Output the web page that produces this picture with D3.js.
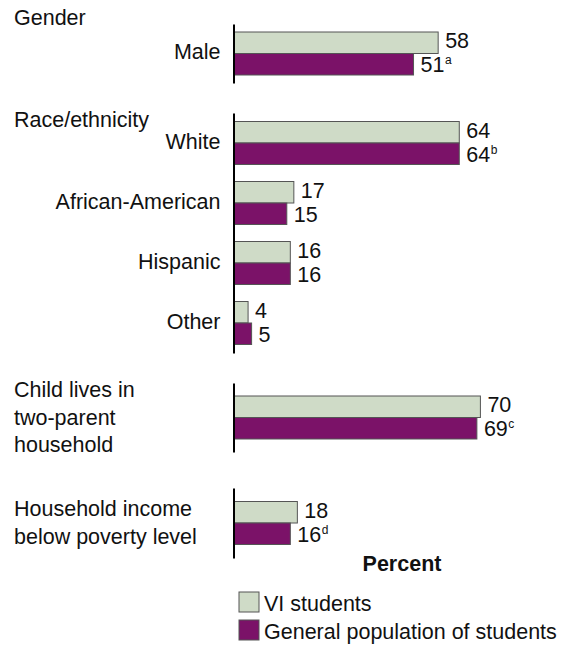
<!DOCTYPE html>
<html>
<head>
<meta charset="utf-8">
<script src="https://cdn.jsdelivr.net/npm/d3@7"></script>
<style>
  html, body { margin: 0; padding: 0; background: #fff; }
  svg { display: block; font-family: "Liberation Sans", Arial, Helvetica, sans-serif; }
</style>
</head>
<body>
<svg id="chart" width="566" height="647"></svg>
<script>
// ---- data ----
const sectionTitles = [
  ["Gender"],
  ["Race/ethnicity"],
  ["Child lives in", "two-parent", "household"],
  ["Household income", "below poverty level"]
];
const rowLabels = ["Male", "White", "African-American", "Hispanic", "Other",
                   "Two-parent household", "Below poverty level"];
const rowSection = [0, 1, 1, 1, 1, 2, 3];
const viStudents = [58, 64, 17, 16, 4, 70, 18];
const generalPopulation = [51, 64, 15, 16, 5, 69, 16];
const footnotes = ["a", "b", "", "", "", "c", "d"];
const seriesNames = ["VI students", "General population of students"];
const axisTitle = "Percent";

// ---- layout ----
const FONT = 21.5;
const colors = ["#cfdbc7", "#7b1268"];
const barStroke = "#555";
const x0 = 234;
const x = d3.scaleLinear().domain([0, 100]).range([x0, x0 + 352]);
const sectionSpans = [[24, 83], [113, 353], [383, 452], [488, 558]];
const headerBaselines = [25, 127];      // sections with a heading above the rows
const barPair = 43;                      // both bars of one row
const series = d3.scaleBand().domain(seriesNames).range([-barPair / 2, barPair / 2]);
const valueDy = [5.3, 7.8];

const svg = d3.select("#chart");
const values = [viStudents, generalPopulation];

sectionTitles.forEach((title, s) => {
  const rows = d3.range(rowLabels.length).filter(i => rowSection[i] === s);
  const band = d3.scaleBand().domain(rows).range(sectionSpans[s]);
  const centre = i => band(i) + band.bandwidth() / 2;
  const g = svg.append("g");

  // section heading / multi-line left label
  if (s < 2) {
    g.append("text")
      .attr("x", 14).attr("y", headerBaselines[s])
      .attr("font-size", FONT).attr("fill", "#111")
      .text(title[0]);
  } else {
    const c = centre(rows[0]);
    const lh = 27.5;
    g.append("text")
      .attr("font-size", FONT).attr("fill", "#111")
      .selectAll("tspan").data(title).join("tspan")
      .attr("x", 14)
      .attr("y", (d, k) => c + (k - (title.length - 1) / 2) * lh + 7)
      .text(d => d);
  }

  // bars
  rows.forEach(i => {
    seriesNames.forEach((name, k) => {
      const v = values[k][i];
      const y = centre(i) + series(name);
      g.append("rect")
        .attr("x", x(0))
        .attr("y", y)
        .attr("width", x(v) - x(0))
        .attr("height", series.bandwidth())
        .attr("fill", colors[k])
        .attr("stroke", barStroke)
        .attr("stroke-width", 1);

      const ty = y + series.bandwidth() / 2 + valueDy[k];
      const t = g.append("text")
        .attr("x", x(v) + 7)
        .attr("y", ty)
        .attr("font-size", FONT).attr("fill", "#111")
        .text(v);
      if (k === 1 && footnotes[i]) {
        // footnote marker set as a raised, smaller letter after the value
        const w = t.node().getComputedTextLength();
        g.append("text")
          .attr("x", x(v) + 7 + w + 0.5)
          .attr("y", ty - 8)
          .attr("font-size", 12)
          .attr("fill", "#111")
          .text(footnotes[i]);
      }
    });
  });

  // vertical axis with row labels
  const axis = d3.axisLeft(band)
    .tickSize(0)
    .tickPadding(13)
    .tickFormat(i => (s < 2 ? rowLabels[i] : ""));
  const ag = svg.append("g")
    .attr("transform", `translate(${x0 - 0.5},0)`)
    .call(axis);
  ag.select(".domain").attr("stroke", "#000").attr("stroke-width", 2);
  ag.selectAll(".tick text")
    .attr("font-size", FONT)
    .attr("font-family", "Liberation Sans, Arial, sans-serif")
    .attr("fill", "#111")
    .attr("dy", "0.26em");
});

// axis title
svg.append("text")
  .attr("x", 402).attr("y", 571)
  .attr("text-anchor", "middle")
  .attr("font-size", FONT).attr("font-weight", "bold").attr("fill", "#111")
  .text(axisTitle);

// legend
const legend = svg.append("g").attr("transform", "translate(239,592)");
const item = legend.selectAll("g").data(seriesNames).join("g")
  .attr("transform", (d, k) => `translate(0,${k * 28})`);
item.append("rect")
  .attr("width", 20).attr("height", 20)
  .attr("fill", (d, k) => colors[k])
  .attr("stroke", barStroke).attr("stroke-width", 1);
item.append("text")
  .attr("x", 25).attr("y", 19)
  .attr("font-size", FONT).attr("fill", "#111")
  .text(d => d);
</script>
</body>
</html>
